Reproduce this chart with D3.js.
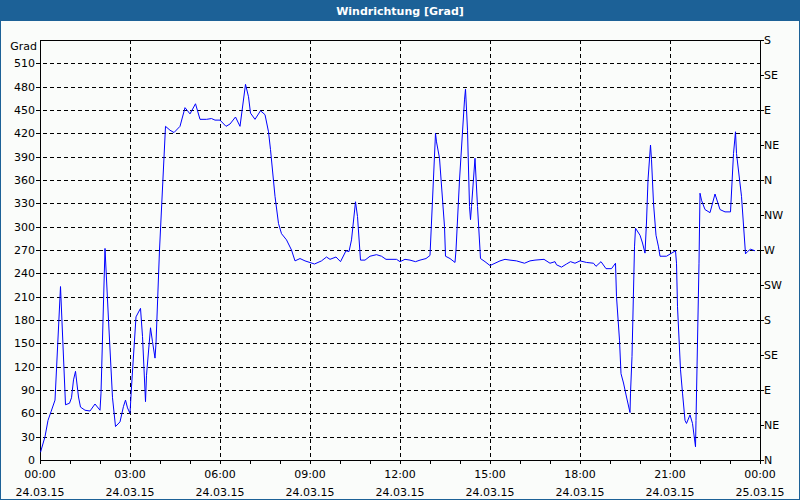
<!DOCTYPE html>
<html><head><meta charset="utf-8">
<script src="https://cdn.jsdelivr.net/npm/d3@7"></script>
<style>html,body{margin:0;padding:0;background:#fff}svg{display:block}</style>
</head><body>
<svg id="c" width="800" height="500"></svg>
<script>
// minutes since 24.03.15 00:00
const minutes = [1,10,16,22,30,41,51,59,63,67,71,77,81,90,100,110,120,122,130,137,145,151,160,167,171,175,180,183,192,201,205,211,213,221,225,230,232,239,251,260,268,280,290,300,311,320,333,343,350,360,372,380,391,400,411,417,421,430,441,450,457,461,470,477,483,493,503,510,520,530,549,563,573,580,592,601,612,618,623,631,635,641,650,660,673,683,692,713,720,730,740,751,760,772,780,791,793,799,809,811,820,830,832,839,849,851,855,859,861,863,870,875,881,890,900,910,920,930,940,953,969,980,990,1008,1020,1030,1033,1043,1053,1061,1070,1080,1093,1107,1112,1122,1132,1143,1151,1153,1159,1162,1167,1173,1180,1181,1184,1189,1191,1200,1205,1210,1213,1216,1221,1223,1227,1232,1237,1240,1253,1271,1273,1275,1281,1285,1290,1293,1300,1305,1311,1312,1318,1320,1323,1330,1340,1350,1360,1370,1381,1387,1391,1393,1403,1411,1415,1421,1430];
const grad = [10,30,51,62,77,223,71,73,80,103,114,81,68,64,63,72,64,86,272,180,80,43,49,69,77,67,60,94,184,195,159,75,109,170,152,131,150,270,429,424,421,429,453,445,458,438,438,439,437,437,429,432,441,429,483,467,446,438,449,444,422,399,339,304,291,283,270,256,259,256,252,256,261,258,261,255,269,268,283,332,313,257,257,262,264,262,258,258,255,258,257,255,257,259,263,420,409,388,300,262,259,254,270,360,463,477,424,326,309,326,388,326,259,255,250,253,256,258,257,256,253,256,257,258,253,255,251,248,252,255,253,256,254,253,249,255,246,246,253,210,154,111,99,81,61,86,133,274,298,289,279,266,306,360,405,386,330,289,274,262,262,269,253,197,116,86,51,47,58,47,17,51,253,343,334,322,318,342,322,319,319,394,422,394,339,265,268,271,269];
const leftTicks = d3.range(0, 511, 30);
const rightTicks = [0,45,90,135,180,225,270,315,360,405,450,495,540];
const rightLabels = ["N","NE","E","SE","S","SW","W","NW","N","NE","E","SE","S"];
const xTickHours = [0,3,6,9,12,15,18,21,24];
const xTimeLabels = ["00:00","03:00","06:00","09:00","12:00","15:00","18:00","21:00","00:00"];
const xDateLabels = ["24.03.15","24.03.15","24.03.15","24.03.15","24.03.15","24.03.15","24.03.15","24.03.15","25.03.15"];
const title = "Windrichtung [Grad]";
const yUnit = "Grad";

const svg = d3.select("#c");
const W = 800, H = 500;
const L = 40, R = 760, T = 40, B = 460;
const font = "'DejaVu Sans', Verdana, sans-serif";

svg.append("rect").attr("x",0).attr("y",0).attr("width",W).attr("height",H).attr("fill","#1c6197");
svg.append("rect").attr("x",1).attr("y",21).attr("width",W-2).attr("height",H-22).attr("fill","#fafcfa");
svg.append("text").attr("x",W/2).attr("y",15).attr("text-anchor","middle")
  .attr("font-family",font).attr("font-size",11).attr("font-weight","bold").attr("fill","#fff").text(title);

const x = d3.scaleLinear().domain([0, 24*60]).range([L, R]);
const y = d3.scaleLinear().domain([0, 540]).range([B, T]);

const g = svg.append("g").attr("shape-rendering","crispEdges");
// horizontal grid
g.selectAll("line.hg").data(leftTicks.filter(v=>v>0)).enter().append("line")
  .attr("x1",L-4).attr("x2",R).attr("y1",d=>Math.round(y(d))+0.5).attr("y2",d=>Math.round(y(d))+0.5)
  .attr("stroke","#000").attr("stroke-dasharray","4,3");
// vertical grid
g.selectAll("line.vg").data(xTickHours.filter(h=>h>0&&h<24)).enter().append("line")
  .attr("x1",d=>Math.round(x(d*60))+0.5).attr("x2",d=>Math.round(x(d*60))+0.5).attr("y1",T).attr("y2",B)
  .attr("stroke","#000").attr("stroke-dasharray","4,3");
// hourly minor ticks
g.selectAll("line.mt").data(d3.range(0,25)).enter().append("line")
  .attr("x1",d=>Math.round(x(d*60))+0.5).attr("x2",d=>Math.round(x(d*60))+0.5).attr("y1",B).attr("y2",B+4)
  .attr("stroke","#000");
// frame
g.append("rect").attr("x",L+0.5).attr("y",T+0.5).attr("width",R-L).attr("height",B-T)
  .attr("fill","none").attr("stroke","#000");

// left axis labels
const ax = svg.append("g").attr("font-family",font).attr("font-size",11).attr("fill","#000");
ax.selectAll("text.l").data(leftTicks).enter().append("text")
  .attr("x",35).attr("y",d=>y(d)+4).attr("text-anchor","end").text(d=>d);
ax.append("text").attr("x",37).attr("y",50).attr("text-anchor","end").text(yUnit);
// right axis
g.selectAll("line.rt").data(rightTicks).enter().append("line")
  .attr("x1",R).attr("x2",R+4).attr("y1",d=>Math.round(y(d))+0.5).attr("y2",d=>Math.round(y(d))+0.5)
  .attr("stroke","#000");
ax.selectAll("text.r").data(rightTicks).enter().append("text")
  .attr("x",764).attr("y",d=>y(d)+4).text((d,i)=>rightLabels[i]);
// bottom labels
ax.selectAll("text.bt").data(xTickHours).enter().append("text")
  .attr("x",d=>x(d*60)).attr("y",478).attr("text-anchor","middle").text((d,i)=>xTimeLabels[i]);
ax.selectAll("text.bd").data(xTickHours).enter().append("text")
  .attr("x",d=>x(d*60)).attr("y",496).attr("text-anchor","middle").text((d,i)=>xDateLabels[i]);

// line
const line = d3.line().x((d,i)=>x(minutes[i])).y(d=>y(d));
svg.append("path").datum(grad).attr("d",line).attr("fill","none").attr("stroke","#0000ff").attr("stroke-width",1);
</script>
</body></html>
